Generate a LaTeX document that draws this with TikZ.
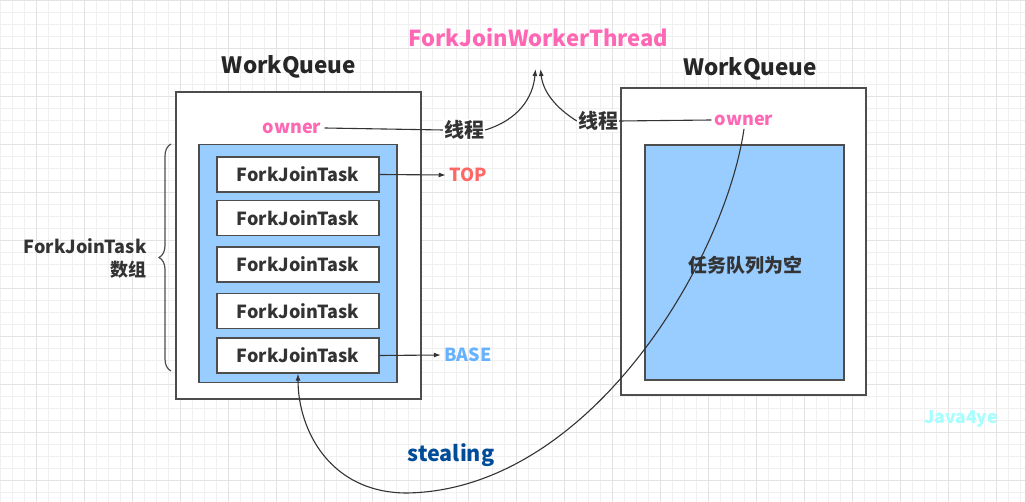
\documentclass[tikz,border=0pt]{standalone}
\usepackage{fontspec}
\setmainfont{Noto Sans CJK SC}
\usepackage{xcolor}
\usepackage{tikz}
\usetikzlibrary{arrows.meta, decorations.pathreplacing}
\definecolor{pinkanno}{RGB}{255, 102, 179}
\definecolor{topred}{RGB}{255, 102, 102}
\definecolor{baseblue}{RGB}{102, 178, 255}
\definecolor{stealblue}{RGB}{0, 76, 153}
\definecolor{wmcyan}{RGB}{166, 255, 255}
\definecolor{qfill}{RGB}{153, 204, 255}
\definecolor{boxline}{RGB}{77, 77, 77}
\definecolor{txtgray}{RGB}{51, 51, 51}

\begin{document}
\begin{tikzpicture}[x=1pt, y=-1pt,
  font=\bfseries\fontsize{18}{21}\selectfont, text=txtgray,
  gridminor/.style={line width=0.6pt, black!6},
  gridmajor/.style={line width=0.8pt, black!11},
  qbox/.style={draw=boxline, line width=1.3pt, fill=white, inner sep=0pt},
  arrbox/.style={draw=boxline, line width=1.3pt, fill=qfill, inner sep=0pt},
  taskbox/.style={draw=boxline, line width=1.2pt, fill=white, minimum width=162pt, minimum height=35pt, inner sep=0pt},
  wire/.style={line width=1.1pt, black!80},
  tag/.style={fill=white, inner sep=1pt}]
\useasboundingbox (0,0) rectangle (1025,502);
\fill[white] (0,0) rectangle (1025,502);
% background grid
\foreach \gx in {0,12,...,1020} \draw[gridminor] (\gx,0) -- (\gx,502);
\foreach \gy in {0,12,...,492} \draw[gridminor] (0,\gy) -- (1025,\gy);
\foreach \gx in {36,84,...,996} \draw[gridmajor] (\gx,0) -- (\gx,502);
\foreach \gy in {0,48,...,480} \draw[gridmajor] (0,\gy) -- (1025,\gy);

\node[text=pinkanno, font=\bfseries\fontsize{22}{25}\selectfont] (thread) at (538.5,38) {ForkJoinWorkerThread};
\coordinate (tipL) at (535.5,69);
\coordinate (tipR) at (540.5,69);

% left queue
\node[font=\bfseries\fontsize{22.5}{26}\selectfont, text=black!85] (wqL) at (289,67) {WorkQueue};
\node[qbox, minimum width=245pt, minimum height=307pt] (qL) at (298.5,245.5) {};
\node[arrbox, minimum width=198pt, minimum height=238pt] (arrL) at (298,263.5) {};
\foreach \ty [count=\i] in {174.5,218,264.5,311,355.5}
  \node[taskbox] (task\i) at (298,\ty) {ForkJoinTask};
\node[text=pinkanno] (ownerL) at (292,128) {owner};
\node[tag, font=\bfseries\fontsize{20}{23}\selectfont] (lineL) at (464,130) {线程};
\node[text=topred] (top) at (468,175) {TOP};
\node[text=baseblue] (base) at (468,355) {BASE};
\draw[decorate, decoration={brace, amplitude=12pt}, line width=1.2pt, boxline] (171,371) -- (171,144);
\node[align=right, anchor=east, font=\bfseries\fontsize{18}{23}\selectfont] (arrlabel) at (150,258) {ForkJoinTask\\数组};

% right queue
\node[font=\bfseries\fontsize{22.5}{26}\selectfont, text=black!85] (wqR) at (750,69) {WorkQueue};
\node[qbox, minimum width=245pt, minimum height=307pt] (qR) at (743.5,241.5) {};
\node[arrbox, minimum width=199pt, minimum height=235pt] (arrR) at (744.5,262.5) {};
\node[font=\bfseries\fontsize{19}{22}\selectfont] (empty) at (745,265) {任务队列为空};
\node[text=pinkanno] (ownerR) at (744,120) {owner};
\node[tag, font=\bfseries\fontsize{20}{23}\selectfont] (lineR) at (598,121) {线程};

\node[text=stealblue, font=\bfseries\fontsize{21.5}{25}\selectfont] (steal) at (451,455) {stealing};
\node[text=wmcyan, font=\bfseries\fontsize{17.5}{20}\selectfont] (mark) at (961,419) {Java4ye};

% connectors
\draw[wire] (ownerL.east) -- (lineL.west);
\draw[wire, -{Latex[length=7pt, width=5pt]}] (lineL.east) .. controls (518,120) and (533,98) .. (tipL);
\draw[wire] (ownerR.west) -- (lineR.east);
\draw[wire, -{Latex[length=7pt, width=5pt]}] (lineR.west) .. controls (556,108) and (543,92) .. (tipR);
\draw[wire, -{Latex[length=7pt, width=5pt]}] (task1.east) -- (top.west);
\draw[wire, -{Latex[length=7pt, width=5pt]}] (task5.east) -- (base.west);
\draw[wire, -{Latex[length=7pt, width=5pt]}] (ownerR.south) .. controls (725,260) and (590,490) .. (407,493)
  .. controls (330,493) and (298,430) .. (task5.south);
\end{tikzpicture}
\end{document}
